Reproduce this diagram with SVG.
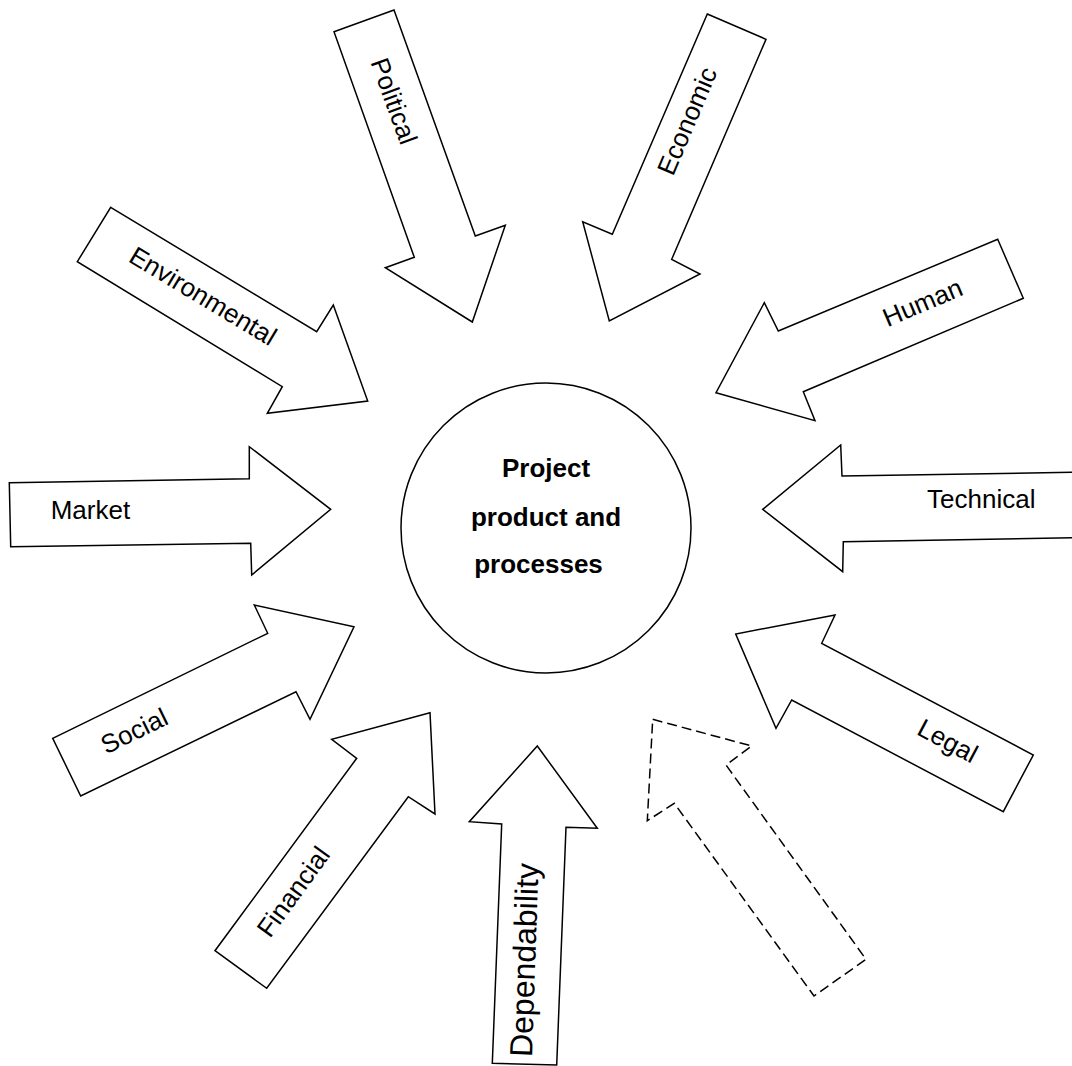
<svg xmlns="http://www.w3.org/2000/svg" width="1072" height="1066" viewBox="0 0 1072 1066">
  <style>
    .arrow { fill: #ffffff; stroke: #000000; stroke-width: 1.5; stroke-linejoin: miter; }
    .dashed { stroke-dasharray: 10 5; }
    .core { fill: #ffffff; stroke: #000000; stroke-width: 1.5; }
    .label { font-family: "Liberation Sans", Arial, Helvetica, sans-serif; font-size: 26px; fill: #000000; }
    .big { font-size: 32px; }
    .title { font-family: "Liberation Sans", Arial, Helvetica, sans-serif; font-size: 26px; font-weight: bold; fill: #000000; text-anchor: middle; }
  </style>
  <rect width="1072" height="1066" fill="#ffffff"/>

  <!-- central node -->
  <g id="core">
    <circle class="core" cx="546" cy="528" r="145"/>
    <text class="title" x="546" y="477">Project</text>
    <text class="title" x="546" y="526">product and</text>
    <text class="title" x="538.5" y="573">processes</text>
  </g>

  <!-- influence arrows pointing at the centre -->
  <g id="arrows">
    <g id="political">
      <polygon class="arrow" points="334,31.7 394,10 475.3,236 505.3,225.3 472.3,322 385.3,267.7 414.3,257.3"/>
      <text class="label" text-anchor="middle" transform="translate(394,101) rotate(70)" y="9">Political</text>
    </g>
    <g id="economic">
      <polygon class="arrow" points="707.3,14 766,39.3 671.7,259.3 700,274 609.3,321 582.7,221.7 612.3,234.3"/>
      <text class="label" text-anchor="middle" transform="translate(687,121) rotate(-67)" y="9">Economic</text>
    </g>
    <g id="environmental">
      <polygon class="arrow" points="110.7,207.3 316.7,331.7 333.3,305 367.7,401 267.3,413.3 282.3,386.7 77.3,261.7"/>
      <text class="label" text-anchor="middle" transform="translate(203,296) rotate(31)" y="9">Environmental</text>
    </g>
    <g id="human">
      <polygon class="arrow" points="997.7,239.3 1023.3,298.3 803.3,391.7 815,420.7 716,392.7 764.3,302.7 778.3,331"/>
      <text class="label" text-anchor="middle" transform="translate(922.5,302.5) rotate(-23)" y="9">Human</text>
    </g>
    <g id="market">
      <polygon class="arrow" points="9.3,482.7 249.3,478.7 249.3,446.7 330.7,509.3 251.7,575 250.7,543.3 10.7,546.7"/>
      <text class="label" x="50.7" y="519.3">Market</text>
    </g>
    <g id="technical">
      <polygon class="arrow" points="1080,472.2 842,476 840.7,445 762.7,509.3 842.7,571.7 843.3,541.7 1080,537.6"/>
      <text class="label" text-anchor="middle" x="981.3" y="508.3">Technical</text>
    </g>
    <g id="social">
      <polygon class="arrow" points="52.7,738.3 267.7,633.3 254.3,605 354,626.7 310,719.3 296,691.7 80.7,796"/>
      <text class="label" text-anchor="middle" transform="translate(134.2,730.8) rotate(-26)" y="9">Social</text>
    </g>
    <g id="legal">
      <polygon class="arrow" points="835,615 735.7,634 776,728.3 791.7,700 1003.3,811.7 1033.3,755 821.7,643.3"/>
      <text class="label" text-anchor="middle" transform="translate(947.7,740.8) rotate(28)" y="9">Legal</text>
    </g>
    <g id="financial">
      <polygon class="arrow" points="215,950.7 266.7,988.3 408.3,796.7 435,814 430,712.7 331.7,739.3 356.7,758.3"/>
      <text class="label" text-anchor="middle" transform="translate(293.3,891.7) rotate(-54)" y="9">Financial</text>
    </g>
    <g id="dependability">
      <polygon class="arrow" points="537.3,746 597.3,828.3 566,827.3 556.7,1065 492.3,1063.3 501.7,824 469.3,821.7"/>
      <text class="label big" text-anchor="middle" transform="translate(524.3,960) rotate(-88)" y="11">Dependability</text>
    </g>
    <g id="unnamed">
      <polygon class="arrow dashed" points="652.7,719.3 751.7,746 726,765 866,959.3 814,996 674.3,803.3 647.3,820.7"/>
    </g>
  </g>
</svg>
